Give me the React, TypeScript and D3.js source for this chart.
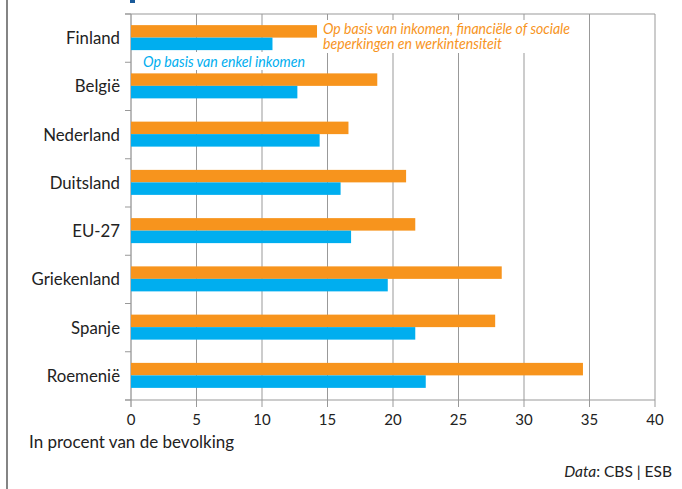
import React from "react";
import * as d3 from "d3";

const categories = ["Finland", "België", "Nederland", "Duitsland", "EU-27", "Griekenland", "Spanje", "Roemenië"];
const broadValues = [14.2, 18.8, 16.6, 21.0, 21.7, 28.3, 27.8, 34.5];
const incomeValues = [10.8, 12.7, 14.4, 16.0, 16.8, 19.6, 21.7, 22.5];
const xTicks = [0, 5, 10, 15, 20, 25, 30, 35, 40];
const broadLabel = ["Op basis van inkomen, financiële of sociale", "beperkingen en werkintensiteit"];
const incomeLabel = "Op basis van enkel inkomen";

const W = 682;
const H = 489;
const FONT = "Lato, 'Open Sans', sans-serif";
const ORANGE = "#F7941D";
const BLUE = "#00AEEF";

export default function App() {
  const x = d3.scaleLinear().domain([0, 40]).range([131, 655]);
  const y = d3.scaleBand<string>().domain(categories).range([14, 400]);
  const bw = y.bandwidth();
  const barH = 12.5;
  const boundaries = d3.range(categories.length + 1).map((i) => 14 + i * bw);

  return (
    <svg width={W} height={H} style={{ position: "absolute", left: 0, top: 0 }}>
      <rect x={0} y={0} width={W} height={H} fill="#fff" />
      <line x1={7} x2={7} y1={0} y2={H} stroke="#333" strokeWidth={1.2} />
      <rect x={130} y={0} width={5} height={3} fill="#1a5a9a" />
      {xTicks.map((t) => (
        <line key={"g" + t} x1={x(t)} x2={x(t)} y1={14} y2={407} stroke={t === 0 ? "#777" : "#999"} strokeWidth={1} />
      ))}
      <line x1={125} x2={655} y1={14} y2={14} stroke="#999" strokeWidth={1} />
      <line x1={125} x2={655} y1={400} y2={400} stroke="#999" strokeWidth={1} />
      {boundaries.map((b, i) => (
        <line key={"yt" + i} x1={125} x2={131} y1={b} y2={b} stroke="#999" strokeWidth={1} />
      ))}
      {categories.map((c, i) => {
        const cy = (y(c) as number) + bw / 2 - 0.5;
        return (
          <g key={c}>
            <rect x={x(0)} y={cy - barH} width={x(broadValues[i]) - x(0)} height={barH} fill={ORANGE} />
            <rect x={x(0)} y={cy} width={x(incomeValues[i]) - x(0)} height={barH} fill={BLUE} />
            <text x={120} y={cy} textAnchor="end" dominantBaseline="central" fontFamily={FONT} fontSize={16.8} fill="#222">
              {c}
            </text>
          </g>
        );
      })}
      {xTicks.map((t) => (
        <text key={"xl" + t} x={x(t)} y={419} textAnchor="middle" dominantBaseline="central" fontFamily={FONT} fontSize={15} fill="#222">
          {t}
        </text>
      ))}
      <rect x={320} y={20} width={256} height={33} fill="#fff" />
      <rect x={140} y={52} width={168} height={18} fill="#fff" />
      <text x={323} y={28} dominantBaseline="central" fontFamily={FONT} fontStyle="italic" fontSize={14.5} fill={ORANGE} textLength={247} lengthAdjust="spacingAndGlyphs">
        {broadLabel[0]}
      </text>
      <text x={323} y={43.5} dominantBaseline="central" fontFamily={FONT} fontStyle="italic" fontSize={14.5} fill={ORANGE} textLength={179} lengthAdjust="spacingAndGlyphs">
        {broadLabel[1]}
      </text>
      <text x={143} y={61.5} dominantBaseline="central" fontFamily={FONT} fontStyle="italic" fontSize={14.5} fill={BLUE} textLength={162} lengthAdjust="spacingAndGlyphs">
        {incomeLabel}
      </text>
      <text x={29} y={441} dominantBaseline="central" fontFamily={FONT} fontSize={17} fill="#222">
        In procent van de bevolking
      </text>
      <text x={672} y={471} textAnchor="end" dominantBaseline="central" fontFamily={FONT} fontSize={15.5} fill="#222">
        <tspan fontStyle="italic">Data</tspan>
        <tspan>: CBS | ESB</tspan>
      </text>
    </svg>
  );
}
